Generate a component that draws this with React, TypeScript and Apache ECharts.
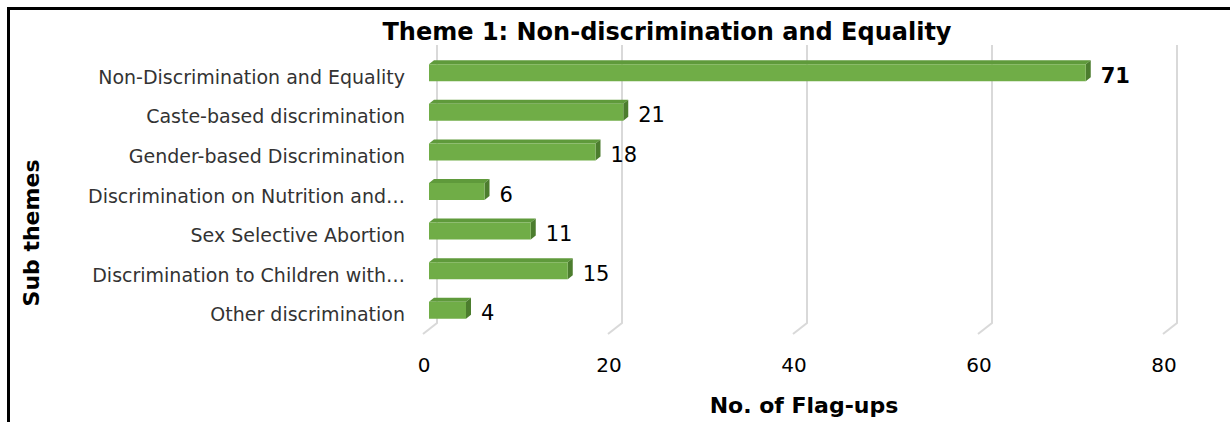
import React, { useEffect, useRef } from "react";
import * as echarts from "echarts";

const categories = [
  "Non-Discrimination and Equality",
  "Caste-based discrimination",
  "Gender-based Discrimination",
  "Discrimination on Nutrition and…",
  "Sex Selective Abortion",
  "Discrimination to Children with…",
  "Other discrimination",
];
const values = [71, 21, 18, 6, 11, 15, 4];
const xTicks = [0, 20, 40, 60, 80];
const chartTitle = "Theme 1: Non-discrimination and Equality";
const xName = "No. of Flag-ups";
const yName = "Sub themes";

const FONT = "DejaVu Sans";

export default function App() {
  const ref = useRef<HTMLDivElement>(null);
  useEffect(() => {
    if (!ref.current) return;
    const chart = echarts.init(ref.current, null, { renderer: "svg" });
    const maxVal = Math.max(...values);
    const barData = values.map((v, i) => [v, i]);
    chart.setOption({
      animation: false,
      backgroundColor: "#ffffff",
      title: {
        text: chartTitle,
        left: 662,
        top: 15,
        textAlign: "center",
        textStyle: { fontFamily: FONT, fontWeight: "bold", fontSize: 24, color: "#000" },
      },
      grid: [
        { left: 429, right: 61, top: 52, bottom: 93 },
        { left: 429, right: 61, top: 57, bottom: 88 },
      ],
      xAxis: [
        {
          type: "value",
          gridIndex: 0,
          min: 0,
          max: 80,
          interval: 20,
          splitLine: { show: false },
          axisLine: { show: false },
          axisTick: { show: false },
          axisLabel: {
            fontFamily: FONT,
            fontSize: 20,
            color: "#000",
            margin: 26,
            padding: [0, 10, 0, 0],
          },
          name: xName,
          nameLocation: "middle",
          nameGap: 65,
          nameTextStyle: { fontFamily: FONT, fontWeight: "bold", fontSize: 22, color: "#000", padding: [0, 0, 0, 10] },
        },
        {
          type: "value",
          gridIndex: 1,
          min: 0,
          max: 80,
          interval: 20,
          show: false,
        },
      ],
      yAxis: [
        {
          type: "category",
          gridIndex: 0,
          data: categories,
          inverse: true,
          show: false,
        },
        {
          type: "category",
          gridIndex: 1,
          data: categories,
          inverse: true,
          axisLine: { show: false },
          axisTick: { show: false },
          splitLine: { show: false },
          axisLabel: { fontFamily: FONT, fontSize: 19, color: "#333", margin: 24 },
        },
      ],
      series: [
        {
          type: "custom",
          z: 1,
          xAxisIndex: 0,
          yAxisIndex: 0,
          data: xTicks.map((t) => [t]),
          encode: { x: 0 },
          silent: true,
          renderItem: (params: any, api: any) => {
            const v = api.value(0);
            const gx = api.coord([v, 0])[0];
            const cs = params.coordSys;
            const top = cs.y - 7;
            const bot = cs.y + cs.height - 6;
            return {
              type: "polyline",
              shape: { points: [[gx + 8, top], [gx + 8, bot], [gx - 6, bot + 11]] },
              style: { stroke: "#d9d9d9", lineWidth: 2, fill: "none" },
            };
          },
        },
        {
          type: "custom",
          z: 5,
          xAxisIndex: 0,
          yAxisIndex: 0,
          data: barData,
          encode: { x: 0, y: 1 },
          renderItem: (params: any, api: any) => {
            const v = api.value(0);
            const idx = api.value(1);
            const p0 = api.coord([0, idx]);
            const p1 = api.coord([v, idx]);
            const h = 17;
            const dx = 5;
            const dy = 4;
            const cy = p0[1] + 1;
            const topY = cy - h / 2;
            const botY = cy + h / 2;
            const x0 = p0[0];
            const x1 = p1[0];
            return {
              type: "group",
              children: [
                {
                  type: "polygon",
                  shape: { points: [[x0, topY], [x0 + dx, topY - dy], [x1 + dx, topY - dy], [x1, topY]] },
                  style: { fill: "#5f9a3b" },
                },
                {
                  type: "polygon",
                  shape: { points: [[x1, topY], [x1 + dx, topY - dy], [x1 + dx, botY - dy], [x1, botY]] },
                  style: { fill: "#4c7d2e" },
                },
                {
                  type: "rect",
                  shape: { x: x0, y: topY, width: x1 - x0, height: h },
                  style: { fill: "#70ad47" },
                },
                {
                  type: "text",
                  style: {
                    text: String(v),
                    x: x1 + dx + 10,
                    y: cy + 3,
                    verticalAlign: "middle",
                    fontFamily: FONT,
                    fontSize: 21,
                    fontWeight: v === maxVal ? "bold" : "normal",
                    fill: "#000",
                  },
                },
              ],
            };
          },
        },
      ],
      graphic: [
        {
          type: "text",
          x: 31,
          y: 233,
          rotation: Math.PI / 2,
          style: {
            text: yName,
            fontFamily: FONT,
            fontWeight: "bold",
            fontSize: 22,
            fill: "#000",
            align: "center",
            verticalAlign: "middle",
          },
        },
        {
          type: "rect",
          shape: { x: 8.5, y: 8.5, width: 1260, height: 450 },
          style: { fill: "none", stroke: "#000", lineWidth: 3 },
          z: 100,
        },
      ],
    });
    return () => chart.dispose();
  }, []);
  return (
    <div
      ref={ref}
      style={{ position: "fixed", left: 0, top: 0, width: 1230, height: 422 }}
    />
  );
}
